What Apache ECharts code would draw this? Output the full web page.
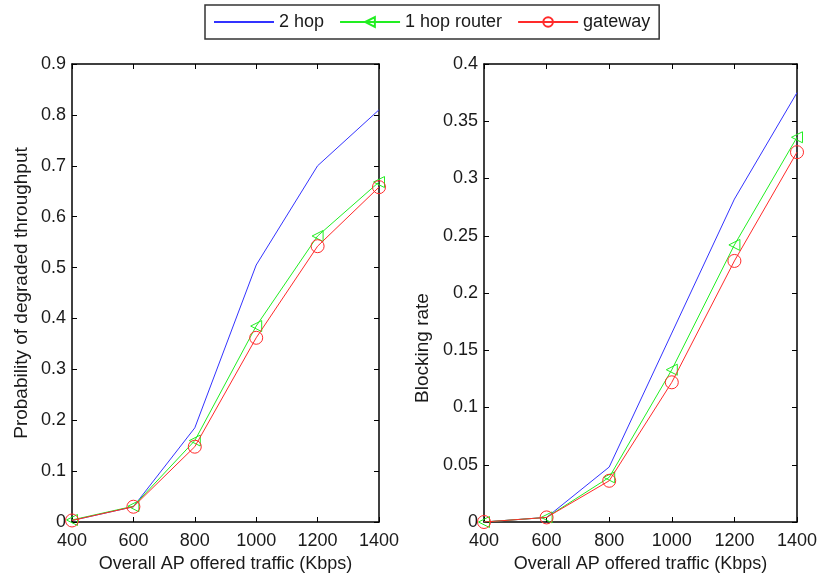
<!DOCTYPE html>
<html>
<head>
<meta charset="utf-8">
<script src="https://cdn.jsdelivr.net/npm/echarts@6/dist/echarts.min.js"></script>
<style>html,body{margin:0;padding:0;background:#fff}#c{width:821px;height:578px}</style>
</head>
<body>
<div id="c"></div>
<script>
var traffic = [400, 600, 800, 1000, 1200, 1400];
var seriesNames = ['2 hop', '1 hop router', 'gateway'];
// Left panel: Probability of degraded throughput
var degTwoHop = [0.003, 0.030, 0.185, 0.505, 0.700, 0.810];
var degOneHop = [0.004, 0.031, 0.160, 0.385, 0.562, 0.668];
var degGateway = [0.003, 0.030, 0.148, 0.362, 0.542, 0.658];
// Right panel: Blocking rate
var blkTwoHop = [0.000, 0.004, 0.048, 0.165, 0.282, 0.375];
var blkOneHop = [0.000, 0.004, 0.039, 0.133, 0.242, 0.336];
var blkGateway = [0.000, 0.004, 0.036, 0.122, 0.228, 0.323];

var FONT = '"Liberation Sans", Arial, sans-serif';
var TXT = '#1a1a1a';
var colors = ['#3333ff', '#22ee22', '#ff2a2a'];

function pairs(ys) { return traffic.map(function (x, i) { return [x, ys[i]]; }); }

function xAxes(gi) {
  var common = {
    type: 'value', gridIndex: gi, min: 400, max: 1400, interval: 200,
    axisLine: { show: true, onZero: false, lineStyle: { color: '#000', width: 1.5 } },
    axisTick: { show: true, inside: true, length: 5, lineStyle: { color: '#000', width: 1 } },
    splitLine: { show: false }
  };
  return [
    Object.assign({}, common, {
      position: 'bottom',
      name: 'Overall AP offered traffic (Kbps)', nameLocation: 'middle', nameGap: 33,
      nameTextStyle: { fontFamily: FONT, fontSize: 18, color: TXT },
      axisLabel: { fontFamily: FONT, fontSize: 18, color: TXT, margin: 10,
        formatter: function (v) { return String(v); } }
    }),
    Object.assign({}, common, { position: 'top', axisLabel: { show: false } })
  ];
}
function yAxes(gi, max, interval, name, gap, pad) {
  var common = {
    type: 'value', gridIndex: gi, min: 0, max: max, interval: interval,
    axisLine: { show: true, onZero: false, lineStyle: { color: '#000', width: 1.5 } },
    axisTick: { show: true, inside: true, length: 5, lineStyle: { color: '#000', width: 1 } },
    splitLine: { show: false }
  };
  return [
    Object.assign({}, common, {
      position: 'left',
      name: name, nameLocation: 'middle', nameGap: gap,
      nameTextStyle: { fontFamily: FONT, fontSize: 19, color: TXT, padding: pad },
      axisLabel: { fontFamily: FONT, fontSize: 18, color: TXT, margin: 6,
        formatter: function (v) { return String(+v.toFixed(2)); } }
    }),
    Object.assign({}, common, { position: 'right', axisLabel: { show: false } })
  ];
}

function mkSeries(xi, yi, data) {
  return [
    { name: seriesNames[0], type: 'line', xAxisIndex: xi, yAxisIndex: yi, data: pairs(data[0]),
      symbol: 'none', lineStyle: { color: colors[0], width: 1 }, itemStyle: { color: colors[0] }, z: 3 },
    { name: seriesNames[1], type: 'line', xAxisIndex: xi, yAxisIndex: yi, data: pairs(data[1]),
      symbol: 'triangle', symbolRotate: 90, symbolSize: 11, showAllSymbol: true,
      lineStyle: { color: colors[1], width: 1 },
      itemStyle: { color: 'rgba(0,0,0,0)', borderColor: colors[1], borderWidth: 1 }, z: 4 },
    { name: seriesNames[2], type: 'line', xAxisIndex: xi, yAxisIndex: yi, data: pairs(data[2]),
      symbol: 'circle', symbolSize: 13, showAllSymbol: true,
      lineStyle: { color: colors[2], width: 1 },
      itemStyle: { color: 'rgba(0,0,0,0)', borderColor: colors[2], borderWidth: 1 }, z: 5 }
  ];
}

var chart = echarts.init(document.getElementById('c'), null, { renderer: 'canvas' });
chart.setOption({
  animation: false,
  backgroundColor: '#fff',
  legend: {
    data: [
      { name: seriesNames[0], itemStyle: { opacity: 0 } },
      { name: seriesNames[1] },
      { name: seriesNames[2] }
    ],
    left: 205, top: 5,
    padding: [8, 9, 8, 8], itemGap: 15, itemWidth: 60, itemHeight: 12,
    borderColor: '#333', borderWidth: 1.5,
    textStyle: { fontFamily: FONT, fontSize: 18, color: TXT }
  },
  grid: [
    { left: 72, right: 442, top: 64, bottom: 55 },
    { left: 484, right: 24, top: 64, bottom: 55 }
  ],
  xAxis: xAxes(0).concat(xAxes(1)),
  yAxis: yAxes(0, 0.9, 0.1, 'Probability of degraded throughput', 41, 0)
    .concat(yAxes(1, 0.4, 0.05, 'Blocking rate', 52, [0, 110, 0, 0])),
  series: mkSeries(0, 0, [degTwoHop, degOneHop, degGateway])
    .concat(mkSeries(2, 2, [blkTwoHop, blkOneHop, blkGateway]))
});
</script>
</body>
</html>
